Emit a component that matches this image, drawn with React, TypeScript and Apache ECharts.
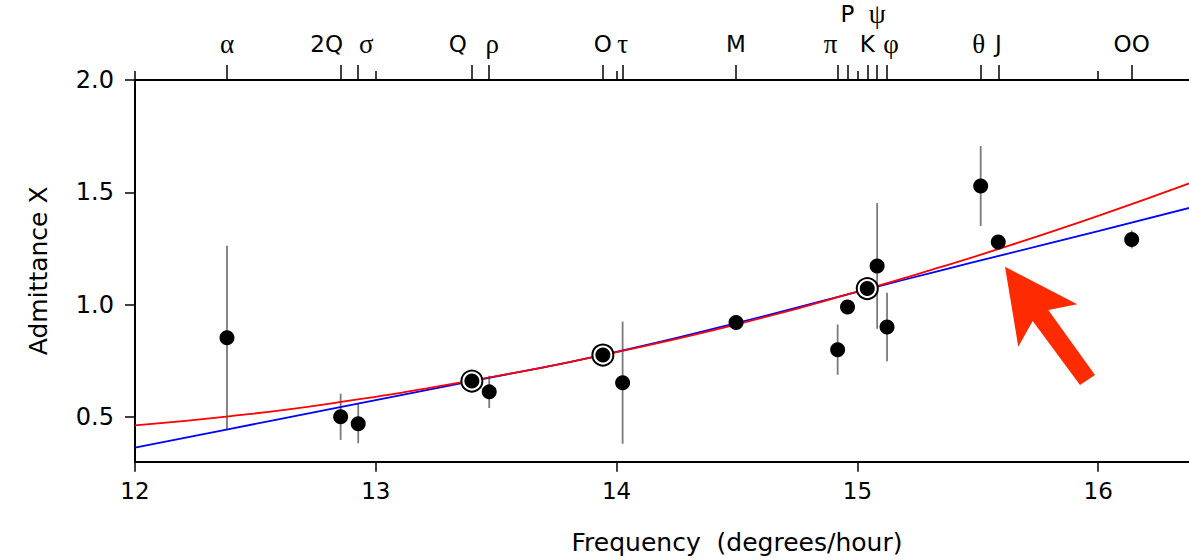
import React, { useEffect, useRef } from "react";
import * as echarts from "echarts";

// Tidal constituents (top axis) and admittance estimates
const names = ["α", "2Q", "σ", "Q", "ρ", "O", "τ", "M", "π", "P", "K", "ψ", "φ", "θ", "J", "OO"];
const freqs = [12.382, 12.854, 12.927, 13.399, 13.471, 13.943, 14.025, 14.496, 14.918, 14.959, 15.041, 15.082, 15.123, 15.512, 15.585, 16.139];
const values = [0.852, 0.5, 0.469, 0.659, 0.611, 0.775, 0.652, 0.92, 0.799, 0.989, 1.071, 1.172, 0.9, 1.528, 1.279, 1.29];
const errors = [0.41, 0.103, 0.087, 0, 0.072, 0, 0.272, 0, 0.112, 0, 0, 0.28, 0.153, 0.178, 0, 0.04];
const fittedNames = ["Q", "O", "K"];

// Fitted admittance curves
const blueX = [12.0, 12.38, 12.81, 13.4, 13.94, 14.5, 15.04, 15.34, 15.6, 16.0, 16.4];
const blueY = [0.363, 0.443, 0.534, 0.659, 0.775, 0.918, 1.068, 1.15, 1.22, 1.327, 1.436];
const redX = [12.0, 12.38, 12.81, 13.4, 13.94, 14.5, 15.04, 15.34, 15.6, 16.0, 16.4];
const redY = [0.462, 0.501, 0.559, 0.662, 0.775, 0.912, 1.07, 1.165, 1.252, 1.395, 1.548];

// Axis ticks
const xTicks = [12, 13, 14, 15, 16];
const yTicks = [0.5, 1.0, 1.5, 2.0];

// Label layout (styling only)
const greek = new Set(["α", "σ", "ρ", "τ", "π", "ψ", "φ", "θ"]);
const raisedNames = new Set(["P", "ψ"]);
const labelDx: Record<string, number> = { "2Q": -14, "σ": 8, Q: -14, "ρ": 3, "π": -7, "φ": 4, "θ": -2 };

export default function App() {
  const ref = useRef<HTMLDivElement>(null);
  useEffect(() => {
    if (!ref.current) return;
    const chart = echarts.init(ref.current, undefined, { renderer: "svg" });

    const rich: Record<string, any> = {};
    names.forEach((n, i) => {
      const dx = labelDx[n] || 0;
      rich["s" + i] = {
        fontFamily: greek.has(n) ? "Liberation Serif" : "DejaVu Sans",
        fontSize: greek.has(n) ? 27 : 23,
        color: "#000",
        lineHeight: 28,
        padding: [0, dx < 0 ? -2 * dx : 0, 0, dx > 0 ? 2 * dx : 0],
      };
    });
    const topFormatter = (v: number) => {
      const i = freqs.findIndex((f) => Math.abs(f - v) < 1e-6);
      return i < 0 ? "" : `{s${i}|${names[i]}}`;
    };
    const normalFreqs = freqs.filter((_, i) => !raisedNames.has(names[i]));
    const raisedFreqs = freqs.filter((_, i) => raisedNames.has(names[i]));

    const plain: number[][] = [];
    const fitted: number[][] = [];
    const bars: number[][] = [];
    names.forEach((n, i) => {
      if (fittedNames.includes(n)) fitted.push([freqs[i], values[i]]);
      else plain.push([freqs[i], values[i]]);
      if (errors[i] > 0) bars.push([freqs[i], values[i] - errors[i], values[i] + errors[i]]);
    });

    const font = "DejaVu Sans";
    const common = { min: 12, max: 17, type: "value" as const, splitLine: { show: false } };

    chart.setOption({
      animation: false,
      backgroundColor: "#fff",
      grid: { left: 135, top: 80, right: 61, bottom: 98.3 },
      xAxis: [
        {
          ...common,
          position: "bottom",
          axisLine: { show: true, lineStyle: { color: "#000", width: 2 } },
          axisTick: { show: true, customValues: xTicks, length: 10, lineStyle: { color: "#000", width: 1.5 } },
          axisLabel: { customValues: xTicks, fontFamily: font, fontSize: 23, color: "#000", margin: 18 },
          name: "Frequency  (degrees/hour)",
          nameLocation: "middle",
          nameGap: 68,
          nameTextStyle: { fontFamily: font, fontSize: 25, color: "#000" },
        },
        {
          ...common,
          position: "top",
          axisLine: { show: true, lineStyle: { color: "#000", width: 2 } },
          axisTick: { show: true, customValues: freqs, length: 15, lineStyle: { color: "#000", width: 1.5 } },
          axisLabel: { customValues: normalFreqs, formatter: topFormatter, rich, margin: 22 },
        },
        {
          ...common,
          position: "top",
          offset: 30,
          axisLine: { show: false },
          axisTick: { show: false },
          axisLabel: { customValues: raisedFreqs, formatter: topFormatter, rich, margin: 22 },
        },
        {
          ...common,
          position: "top",
          axisLine: { show: false },
          axisTick: { show: true, customValues: xTicks, length: 9, lineStyle: { color: "#000", width: 1.5 } },
          axisLabel: { show: false },
        },
      ],
      yAxis: {
        type: "value",
        min: 0.3,
        max: 2.0,
        splitLine: { show: false },
        axisLine: { show: true, lineStyle: { color: "#000", width: 2 } },
        axisTick: { show: true, customValues: yTicks, length: 10, lineStyle: { color: "#000", width: 1.5 } },
        axisLabel: {
          customValues: yTicks,
          formatter: (v: number) => v.toFixed(1),
          fontFamily: font,
          fontSize: 24,
          color: "#000",
          margin: 21,
        },
        name: "Admittance X",
        nameLocation: "middle",
        nameGap: 84,
        nameTextStyle: { fontFamily: font, fontSize: 25, color: "#000" },
      },
      graphic: [
        {
          type: "polygon",
          shape: {
            points: [
              [1005, 266.7],
              [1077.3, 304.3],
              [1048.3, 310],
              [1095, 375],
              [1080, 385],
              [1032.7, 321],
              [1018.3, 346.7],
            ],
          },
          style: { fill: "#ff2b00" },
          z: 100,
        },
      ],
      series: [
        {
          type: "custom",
          name: "errors",
          data: bars,
          encode: { x: 0, y: [1, 2] },
          z: 1,
          renderItem: (_p: any, api: any) => {
            const a = api.coord([api.value(0), api.value(1)]);
            const b = api.coord([api.value(0), api.value(2)]);
            return {
              type: "line",
              shape: { x1: a[0], y1: a[1], x2: b[0], y2: b[1] },
              style: { stroke: "#7a7a7a", lineWidth: 1.8 },
            };
          },
        },
        {
          type: "line",
          name: "blue",
          data: blueX.map((x, i) => [x, blueY[i]]),
          smooth: true,
          showSymbol: false,
          lineStyle: { color: "#0000ff", width: 1.8 },
          z: 2,
        },
        {
          type: "line",
          name: "red",
          data: redX.map((x, i) => [x, redY[i]]),
          smooth: true,
          showSymbol: false,
          lineStyle: { color: "#ff0000", width: 1.8 },
          z: 2,
        },
        {
          type: "scatter",
          name: "rings",
          data: fitted,
          symbol: "circle",
          symbolSize: 21,
          itemStyle: { color: "#fff", borderColor: "#000", borderWidth: 2, opacity: 1 },
          z: 3,
        },
        {
          type: "scatter",
          name: "points",
          data: [...plain, ...fitted],
          symbol: "circle",
          symbolSize: 15,
          itemStyle: { color: "#000", opacity: 1 },
          z: 4,
        },
      ],
    });
    return () => chart.dispose();
  }, []);

  return (
    <div style={{ position: "fixed", left: 0, top: 0, width: 1189, height: 560, overflow: "hidden", background: "#fff" }}>
      <div ref={ref} style={{ width: 1400, height: 560 }} />
    </div>
  );
}
